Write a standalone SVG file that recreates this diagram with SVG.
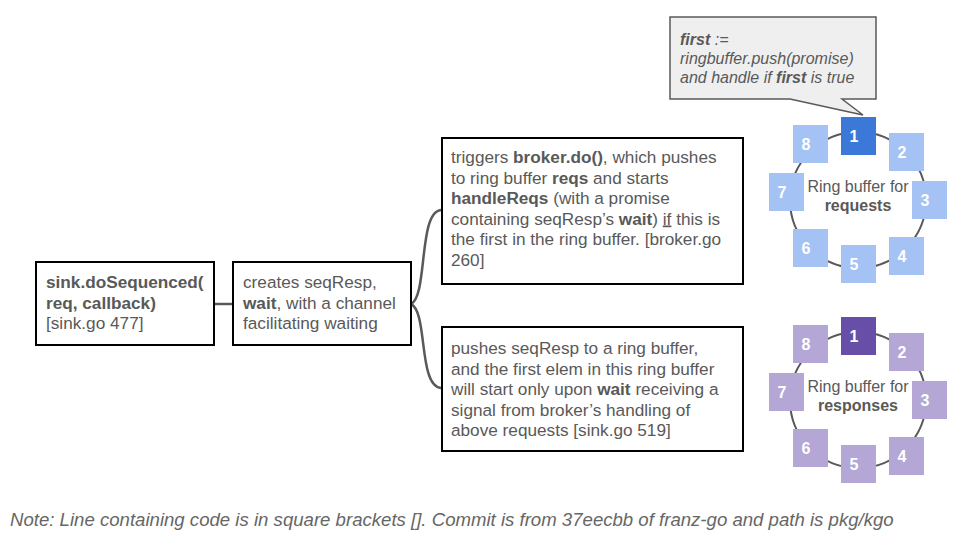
<svg xmlns="http://www.w3.org/2000/svg" width="960" height="540" viewBox="0 0 960 540">
<style>
text{font-family:"Liberation Sans",Arial,sans-serif;fill:#595959}
.box{fill:#fff;stroke:#000;stroke-width:2}
.t{font-size:17.2px}
.b{font-weight:bold}
.ring{fill:none;stroke:#595959;stroke-width:2}
.rq{fill:#a4c2f4}
.rq1{fill:#3c78d8}
.rs{fill:#b4a7d6}
.rs1{fill:#674ea7}
.num{font-size:16px;font-weight:bold;fill:#fff;text-anchor:middle}
.lbl{font-size:16px;text-anchor:middle}
.con{fill:none;stroke:#595959;stroke-width:2.5}
.call{fill:#efefef;stroke:#595959;stroke-width:1.5}
.ct{font-size:16px;font-style:italic}
.note{font-size:18.6px;font-style:italic;fill:#666}
</style>
<g id="connectors">
<line class="con" x1="213" y1="304" x2="233" y2="304" stroke-width="3.5"/>
<path class="con" d="M411,304 C428,296 418,212 441,210"/>
<path class="con" d="M411,304 C428,312 418,386 441,388"/>
</g>
<g id="sink">
<rect class="box" x="36" y="262" width="178" height="83"/>
<text class="t" x="46" y="288"><tspan class="b">sink.doSequenced(</tspan><tspan class="b" x="46" y="308.5">req, callback)</tspan><tspan x="46" y="329">[sink.go 477]</tspan></text>
</g>
<g id="creates">
<rect class="box" x="233" y="262" width="178" height="83"/>
<text class="t" x="243" y="288">creates seqResp,<tspan x="243" y="308.5"><tspan class="b">wait</tspan>, with a channel</tspan><tspan x="243" y="329">facilitating waiting</tspan></text>
</g>
<g id="triggers">
<rect class="box" x="442" y="138" width="301" height="146"/>
<text class="t" x="451" y="163">triggers <tspan class="b">broker.do()</tspan>, which pushes<tspan x="451" y="183.5">to ring buffer <tspan class="b">reqs</tspan> and starts</tspan><tspan x="451" y="204"><tspan class="b">handleReqs</tspan> (with a promise</tspan><tspan x="451" y="224.5">containing seqResp’s <tspan class="b">wait</tspan>) <tspan text-decoration="underline">if</tspan> this is</tspan><tspan x="451" y="245">the first in the ring buffer. [broker.go</tspan><tspan x="451" y="265.5">260]</tspan></text>
</g>
<g id="pushes">
<rect class="box" x="442" y="327" width="301" height="124"/>
<text class="t" x="451" y="354">pushes seqResp to a ring buffer,<tspan x="451" y="374.5">and the first elem in this ring buffer</tspan><tspan x="451" y="395">will start only upon <tspan class="b">wait</tspan> receiving a</tspan><tspan x="451" y="415.5">signal from broker’s handling of</tspan><tspan x="451" y="436">above requests [sink.go 519]</tspan></text>
</g>
<g id="callout">
<path class="call" d="M670,17 H876 V99 H842 L863,115 L790,99 H670 Z"/>
<text class="ct" x="680" y="45"><tspan class="b">first</tspan> :=<tspan x="680" y="64">ringbuffer.push(promise)</tspan><tspan x="680" y="83">and handle if <tspan class="b">first</tspan> is true</tspan></text>
</g>
<g id="ring-requests">
<circle class="ring" cx="858" cy="200" r="68"/>
<rect class="rq1" x="841" y="117" width="35" height="38"/><text class="num" x="854" y="142">1</text>
<rect class="rq" x="889" y="133" width="35" height="38"/><text class="num" x="902" y="158">2</text>
<rect class="rq" x="912" y="181" width="35" height="38"/><text class="num" x="925" y="206">3</text>
<rect class="rq" x="889" y="237" width="35" height="38"/><text class="num" x="902" y="262">4</text>
<rect class="rq" x="841" y="245" width="35" height="38"/><text class="num" x="854" y="270">5</text>
<rect class="rq" x="793" y="229" width="35" height="38"/><text class="num" x="806" y="254">6</text>
<rect class="rq" x="769" y="173" width="35" height="38"/><text class="num" x="782" y="198">7</text>
<rect class="rq" x="793" y="125" width="35" height="38"/><text class="num" x="806" y="150">8</text>
<text class="lbl" x="858" y="192">Ring buffer for<tspan class="b" x="858" y="211">requests</tspan></text>
</g>
<g id="ring-responses">
<circle class="ring" cx="858" cy="400" r="68"/>
<rect class="rs1" x="841" y="317" width="35" height="38"/><text class="num" x="854" y="342">1</text>
<rect class="rs" x="889" y="333" width="35" height="38"/><text class="num" x="902" y="358">2</text>
<rect class="rs" x="912" y="381" width="35" height="38"/><text class="num" x="925" y="406">3</text>
<rect class="rs" x="889" y="437" width="35" height="38"/><text class="num" x="902" y="462">4</text>
<rect class="rs" x="841" y="445" width="35" height="38"/><text class="num" x="854" y="470">5</text>
<rect class="rs" x="793" y="429" width="35" height="38"/><text class="num" x="806" y="454">6</text>
<rect class="rs" x="769" y="373" width="35" height="38"/><text class="num" x="782" y="398">7</text>
<rect class="rs" x="793" y="325" width="35" height="38"/><text class="num" x="806" y="350">8</text>
<text class="lbl" x="858" y="392">Ring buffer for<tspan class="b" x="858" y="411">responses</tspan></text>
</g>
<text class="note" x="10" y="526">Note: Line containing code is in square brackets []. Commit is from 37eecbb of franz-go and path is pkg/kgo</text>
</svg>
